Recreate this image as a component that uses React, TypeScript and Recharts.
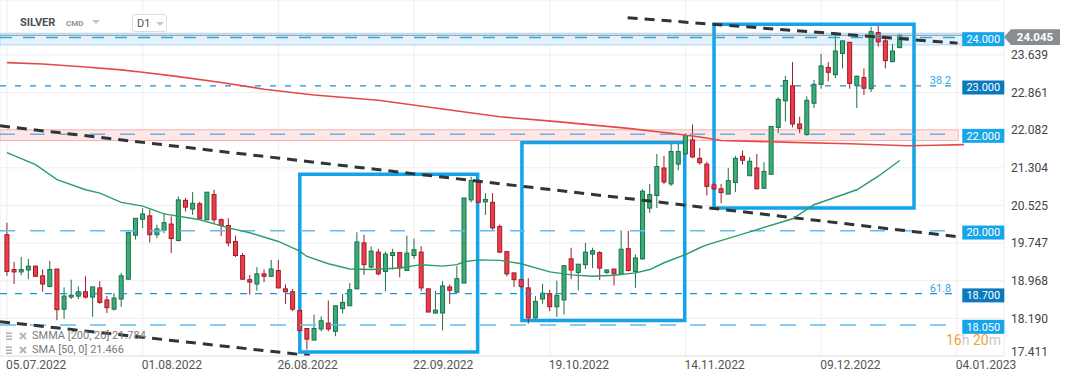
import React from 'react';
import {
  ComposedChart,
  Bar,
  Line,
  XAxis,
  YAxis,
  CartesianGrid,
  ReferenceLine,
  ReferenceArea,
} from 'recharts';

// daily candles, 05.07.2022 -> end of Dec 2022
const opens = [
  19.92, 19.2, 19.15, 19.19, 19.27, 19.07, 18.85, 19.21, 18.38, 18.63,
  18.65, 18.74, 18.63, 18.82, 18.57, 18.38, 18.59, 19.0, 19.91, 20.24,
  20.31, 19.92, 20.01, 20.14, 19.8, 20.63, 20.45, 20.56, 20.23, 20.75,
  20.23, 20.11, 19.78, 19.49, 18.99, 18.9, 19.11, 19.06, 19.18, 18.8,
  18.74, 18.35, 17.98, 17.74, 17.97, 18.09, 17.92, 18.39, 18.45, 18.8,
  19.75, 19.25, 19.56, 19.16, 19.49, 19.55, 19.18, 19.49, 19.56, 18.8,
  18.3, 18.3, 18.84, 18.73, 18.92, 20.64, 21.01, 20.6, 20.59, 20.09,
  19.57, 19.13, 18.99, 18.82, 18.2, 18.59, 18.7, 18.43, 18.57, 19.42,
  19.14, 19.3, 19.52, 19.55, 19.14, 19.21, 19.11, 19.63, 19.16, 19.42,
  20.47, 20.73, 21.3, 20.97, 21.38, 21.59, 21.88, 21.5, 21.38, 20.95,
  20.87, 20.76, 21.0, 21.54, 21.14, 21.3, 20.88, 21.17, 22.14, 22.69,
  23.0, 22.21, 21.99, 22.64, 23.03, 23.38, 23.23, 23.67, 23.9, 23.01,
  23.17, 22.94, 24.1, 23.93, 23.5, 23.79,
];
const highs = [
  20.17, 19.36, 19.46, 19.42, 19.28, 19.2, 19.38, 19.21, 18.83, 18.99,
  18.85, 19.06, 18.84, 18.96, 18.65, 18.71, 19.13, 19.97, 20.26, 20.47,
  20.44, 20.13, 20.37, 20.3, 20.71, 20.68, 20.8, 20.6, 20.8, 20.85,
  20.26, 20.26, 19.9, 19.54, 19.09, 19.25, 19.2, 19.4, 19.4, 18.89,
  18.8, 18.35, 17.98, 18.27, 18.23, 18.56, 18.45, 18.69, 18.92, 19.97,
  19.92, 19.68, 19.63, 19.57, 19.63, 19.55, 19.9, 19.84, 19.68, 18.8,
  18.76, 18.96, 18.89, 19.27, 20.68, 21.12, 21.02, 20.78, 20.78, 20.13,
  19.57, 19.13, 18.99, 19.02, 18.65, 18.9, 18.78, 18.97, 19.28, 19.65,
  19.31, 19.75, 19.65, 19.58, 19.21, 19.21, 20.01, 20.0, 19.51, 20.86,
  20.97, 21.59, 21.55, 21.8, 21.8, 22.02, 22.2, 21.71, 21.43, 20.99,
  20.97, 21.3, 21.55, 21.66, 21.52, 21.59, 21.42, 22.16, 22.76, 23.2,
  23.49, 22.36, 22.78, 23.12, 23.66, 23.49, 24.07, 23.93, 23.9, 23.2,
  23.36, 24.22, 24.24, 24.05, 23.86, 24.07,
];
const lows = [
  19.07, 18.9, 19.08, 19.0, 19.05, 18.74, 18.83, 18.15, 18.18, 18.59,
  18.59, 18.6, 18.22, 18.49, 18.3, 18.35, 18.43, 18.99, 19.82, 20.06,
  19.76, 19.85, 19.95, 19.54, 19.78, 20.4, 20.33, 20.25, 20.22, 20.16,
  19.89, 19.68, 19.46, 18.99, 18.68, 18.76, 18.94, 19.05, 18.81, 18.49,
  18.34, 17.92, 17.54, 17.74, 17.92, 17.92, 17.82, 18.29, 18.45, 18.8,
  19.09, 19.22, 19.08, 18.75, 19.2, 19.04, 19.18, 19.42, 18.75, 18.32,
  18.29, 17.94, 18.49, 18.73, 18.92, 20.59, 20.57, 20.33, 20.02, 19.54,
  19.06, 18.84, 18.82, 18.08, 18.18, 18.49, 18.34, 18.22, 18.27, 19.0,
  18.77, 19.21, 19.23, 18.98, 19.11, 18.87, 19.11, 19.16, 18.82, 19.4,
  20.37, 20.47, 20.97, 20.93, 21.25, 21.59, 21.5, 21.37, 20.73, 20.85,
  20.57, 20.76, 20.8, 21.37, 21.14, 20.86, 20.87, 21.17, 22.02, 22.26,
  22.14, 22.02, 21.97, 22.54, 22.94, 23.09, 23.16, 23.36, 22.94, 22.54,
  22.81, 22.87, 23.81, 23.36, 23.49, 23.78,
];
const closes = [
  19.16, 19.15, 19.2, 19.27, 19.06, 18.9, 19.2, 18.37, 18.65, 18.67,
  18.74, 18.63, 18.84, 18.52, 18.41, 18.61, 19.07, 19.97, 20.26, 20.35,
  19.92, 20.04, 20.17, 19.84, 20.64, 20.49, 20.57, 20.26, 20.8, 20.23,
  20.11, 19.75, 19.49, 19.0, 18.94, 19.11, 19.06, 19.21, 18.82, 18.74,
  18.38, 17.94, 17.76, 17.98, 18.14, 17.97, 18.45, 18.52, 18.78, 19.77,
  19.3, 19.58, 19.11, 19.52, 19.55, 19.23, 19.54, 19.61, 18.82, 18.32,
  18.36, 18.86, 18.77, 19.01, 20.68, 21.04, 20.59, 20.65, 20.06, 19.56,
  19.11, 18.99, 18.85, 18.2, 18.54, 18.71, 18.43, 18.66, 19.28, 19.19,
  19.31, 19.56, 19.59, 19.23, 19.19, 19.11, 19.62, 19.18, 19.44, 20.82,
  20.75, 21.33, 21.01, 21.64, 21.64, 21.97, 21.53, 21.41, 20.92, 20.87,
  20.79, 21.04, 21.5, 21.46, 21.44, 20.87, 21.23, 22.16, 22.72, 23.11,
  22.21, 22.12, 22.7, 23.03, 23.41, 23.28, 23.72, 23.93, 23.05, 23.2,
  22.95, 24.12, 23.91, 23.52, 23.72, 24.045,
];

// indicator readings [bar index, value]
const smmaPoints: [number, number][] = [
  [0, 23.48], [5, 23.45], [11, 23.39], [16, 23.33], [19, 23.28], [24, 23.19],
  [30, 23.07], [36, 22.93], [43, 22.81], [52, 22.7], [61, 22.52], [69, 22.36],
  [77, 22.26], [87, 22.12], [93, 22.02], [97, 21.94], [100, 21.87], [110, 21.83],
  [118, 21.8], [126, 21.76], [130, 21.77], [134, 21.784],
];
const smaPoints: [number, number][] = [
  [0, 21.62], [4, 21.37], [7, 21.06], [11, 20.85], [13, 20.78], [16, 20.59],
  [19, 20.51], [22, 20.35], [27, 20.23], [31, 20.06], [34, 19.96], [38, 19.78],
  [41, 19.58], [42, 19.47], [45, 19.32], [48, 19.21], [51, 19.2], [55, 19.23],
  [58, 19.3], [61, 19.27], [63, 19.3], [64, 19.36], [66, 19.4], [69, 19.39],
  [72, 19.32], [76, 19.15], [79, 19.09], [82, 19.06], [85, 19.08], [88, 19.13],
  [90, 19.2], [92, 19.34], [95, 19.51], [97, 19.65], [98, 19.71], [104, 19.98],
  [110, 20.25], [113, 20.54], [119, 20.85], [122, 21.13], [125, 21.455],
];
const smmaLast = '21.784';
const smaLast = '21.466';

const dateTicks = [0, 19, 38, 57, 76, 95, 114, 133];
const dateLabels = ['05.07.2022', '01.08.2022', '26.08.2022', '22.09.2022', '19.10.2022', '14.11.2022', '09.12.2022', '04.01.2023'];
const priceTicks = [17.411, 18.19, 18.968, 19.747, 20.525, 21.304, 22.082, 22.861, 23.639];

const levels = [24, 23, 22, 20, 18.7, 18.05];
const fibLevels = [23, 18.7];
const fibNames = ['38.2', '61.8'];
const lastPrice = 24.045;
const upperZone = [23.846, 24.087];
const lowerZone = [21.868, 22.09];

// trend lines: [[i1, v1], [i2, v2]]
const trendLines: [number, number][][] = [
  [[86.9, 24.409], [133.1, 23.883]],
  [[-0.98, 22.172], [133.1, 19.879]],
  [[-0.98, 18.122], [42.4, 17.42]],
];
// highlight boxes: [i1, i2, vLow, vHigh]
const boxes = [
  [41.0, 65.9, 17.496, 21.17],
  [72.1, 94.9, 18.143, 21.827],
  [99.0, 127.0, 20.472, 24.273],
];

const X_MIN = -0.98;
const X_MAX = 139.6;

const candles = opens.map((o, i) => ({ i, o, h: highs[i], l: lows[i], c: closes[i] }));
const smmaData = smmaPoints.map(([i, v]) => ({ i, smma: v }));
const smaData = smaPoints.map(([i, v]) => ({ i, sma: v }));

const levelStyle: Record<number, { stroke: string; dash: string; width: number; box: string }> = {
  24: { stroke: '#2aa8ea', dash: '12 11', width: 1.5, box: '#17a5ea' },
  23: { stroke: '#1a8fd8', dash: '6 9', width: 1.2, box: '#0a79be' },
  22: { stroke: '#6cafe0', dash: '15 15', width: 1.5, box: '#17a6ea' },
  20: { stroke: '#62bdf0', dash: '15 15', width: 1.5, box: '#16a5ea' },
  18.7: { stroke: '#1a95dc', dash: '7 8', width: 1.2, box: '#0a79be' },
  18.05: { stroke: '#5fbcf0', dash: '16 14', width: 1.5, box: '#16a5ea' },
};

const Candle = (props: any) => {
  const { x, y, width, height, payload } = props;
  if (!payload || payload.o == null) return null;
  const { o, h, l, c } = payload;
  const top = Math.min(y, y + height);
  const full = Math.abs(height);
  const k = full / Math.max(h - l, 1e-6);
  const yAt = (v: number) => top + (h - v) * k;
  const up = c >= o;
  const cx = x + width / 2;
  const bTop = yAt(Math.max(o, c));
  const bH = Math.max(yAt(Math.min(o, c)) - bTop, 1);
  const fill = up ? '#3aae78' : '#f03c4a';
  const edge = up ? '#1d7048' : '#9c1c28';
  return (
    <g>
      <line x1={cx} x2={cx} y1={top} y2={top + full} stroke={edge} strokeWidth={1} />
      <rect x={x + 0.5} y={bTop} width={width - 1} height={bH} fill={fill} stroke={edge} strokeWidth={1} />
    </g>
  );
};

const PriceTick = (props: any) => {
  const { x, y, payload } = props;
  const dy = payload.value === priceTicks[0] ? -4.5 : 0;
  return (
    <text x={x + 7} y={y + dy + 4.3} fill="#444" fontSize={12} fontFamily="Roboto" textAnchor="start">
      {payload.value.toFixed(3)}
    </text>
  );
};

const DateTick = (props: any) => {
  const { x, y, payload } = props;
  const idx = dateTicks.indexOf(payload.value);
  return (
    <text x={x - 1} y={y + 12.6} fill="#555" fontSize={12} fontFamily="Roboto" textAnchor="start">
      {dateLabels[idx]}
    </text>
  );
};

const levelLabel = (level: number) => (props: any) => {
  const vb = props.viewBox || {};
  const endX = vb.x + vb.width;
  const ly = vb.y;
  const st = levelStyle[level];
  const fi = fibLevels.indexOf(level);
  return (
    <g>
      {fi >= 0 && (
        <text x={endX - 7} y={ly - 1.5} fill="#37a7e6" fontSize={11} fontFamily="Roboto" textAnchor="end">
          {fibNames[fi]}
        </text>
      )}
      <rect x={endX + 4} y={ly - 5.3} width={42} height={14} fill={st.box} />
      <text x={endX + 25} y={ly + 5.6} fill="#fff" fontSize={11} fontFamily="Roboto" textAnchor="middle">
        {level.toFixed(3)}
      </text>
    </g>
  );
};

const priceTag = (props: any) => {
  const vb = props.viewBox || {};
  const sx = vb.x + vb.width;
  const ly = vb.y;
  return (
    <g>
      <polygon
        points={`${sx},${ly + 1.8} ${sx + 7},${ly - 6} ${sx + 56},${ly - 6} ${sx + 56},${ly + 9.6} ${sx + 7},${ly + 9.6}`}
        fill="#878d92"
      />
      <text x={sx + 31} y={ly + 6} fill="#fff" fontSize={11.5} fontWeight={700} fontFamily="Roboto" textAnchor="middle">
        {lastPrice.toFixed(3)}
      </text>
    </g>
  );
};

const LegendIcon = () => (
  <svg width={22} height={9} style={{ marginRight: 4 }}>
    <rect x={0} y={0.5} width={6} height={1.5} fill="#b0b0b0" />
    <rect x={0} y={3.5} width={6} height={1.5} fill="#b0b0b0" />
    <rect x={0} y={6.5} width={6} height={1.5} fill="#b0b0b0" />
    <path d="M14 1 L20 7 M20 1 L14 7" stroke="#b5b5b5" strokeWidth={2} />
  </svg>
);

const SilverChart: React.FC = () => {
  return (
    <div style={{ position: 'absolute', left: 0, top: 0, width: 1072, height: 382, background: '#fff', fontFamily: 'Roboto' }}>
      <ComposedChart width={1072} height={382} data={candles} margin={{ top: 0, right: 0, bottom: 0, left: 0 }}>
        <ReferenceArea x1={X_MIN} x2={133.8} y1={upperZone[0]} y2={upperZone[1]} fill="#e3f2fb" fillOpacity={1} stroke="#a8d6f0" strokeWidth={1} ifOverflow="hidden" />
        <ReferenceArea x1={X_MIN} x2={133.2} y1={lowerZone[0]} y2={lowerZone[1]} fill="#fde7e7" fillOpacity={1} stroke="#f6b2b2" strokeWidth={1} ifOverflow="hidden" />
        <CartesianGrid stroke="#eeeeee" />
        <XAxis
          dataKey="i"
          type="number"
          domain={[X_MIN, X_MAX]}
          allowDataOverflow
          ticks={dateTicks}
          height={26}
          tickSize={0}
          tickMargin={0}
          axisLine={{ stroke: '#e6e6e6' }}
          tickLine={false}
          tick={<DateTick />}
        />
        <YAxis
          orientation="right"
          type="number"
          domain={[17.411, 24.775]}
          allowDataOverflow
          ticks={priceTicks}
          width={68}
          tickSize={0}
          tickMargin={0}
          axisLine={false}
          tickLine={false}
          tick={<PriceTick />}
        />
        <ReferenceLine y={lastPrice} stroke="#8a9095" strokeWidth={1} ifOverflow="hidden" label={priceTag} />
        {levels.map((lv) => (
          <ReferenceLine
            key={lv}
            segment={[{ x: X_MIN, y: lv }, { x: 133.2, y: lv }]}
            stroke={levelStyle[lv].stroke}
            strokeWidth={levelStyle[lv].width}
            strokeDasharray={levelStyle[lv].dash}
            ifOverflow="hidden"
            label={levelLabel(lv)}
          />
        ))}
        {trendLines.map((seg, k) => (
          <ReferenceLine
            key={'t' + k}
            segment={[{ x: seg[0][0], y: seg[0][1] }, { x: seg[1][0], y: seg[1][1] }]}
            stroke="#2f3438"
            strokeWidth={3}
            strokeDasharray="10 7"
            ifOverflow="hidden"
          />
        ))}
        <Line data={smmaData} dataKey="smma" stroke="#e64848" strokeWidth={1.6} dot={false} activeDot={false} isAnimationActive={false} />
        <Line data={smaData} dataKey="sma" stroke="#2a9d6a" strokeWidth={1.4} dot={false} activeDot={false} isAnimationActive={false} />
        <Bar
          dataKey={(d: any) => [d.l, d.h]}
          barSize={5}
          shape={<Candle />}
          isAnimationActive={false}
        />
        {boxes.map((b, k) => (
          <ReferenceArea
            key={'b' + k}
            x1={b[0]}
            x2={b[1]}
            y1={b[2]}
            y2={b[3]}
            fill="none"
            stroke="#13a3ea"
            strokeWidth={3.5}
            ifOverflow="visible"
          />
        ))}
      </ComposedChart>

      {/* header */}
      <div style={{ position: 'absolute', left: 20, top: 16, fontSize: 11, fontWeight: 700, color: '#4b5056', lineHeight: '13px' }}>SILVER</div>
      <div style={{ position: 'absolute', left: 66, top: 19, fontSize: 8, fontWeight: 700, color: '#8e949a', lineHeight: '10px' }}>CMD</div>
      <div style={{ position: 'absolute', left: 92, top: 20, width: 0, height: 0, borderLeft: '4px solid transparent', borderRight: '4px solid transparent', borderTop: '4px solid #c4c7ca' }} />
      <div style={{ position: 'absolute', left: 132, top: 14, width: 35, height: 18, border: '1px solid #dcdfe2', borderRadius: 3, background: '#fff', boxSizing: 'border-box' }}>
        <span style={{ position: 'absolute', left: 4, top: 2, fontSize: 11, color: '#555', lineHeight: '13px' }}>D1</span>
        <div style={{ position: 'absolute', left: 23, top: 7, width: 0, height: 0, borderLeft: '4px solid transparent', borderRight: '4px solid transparent', borderTop: '4px solid #c4c7ca' }} />
      </div>

      {/* indicator legend */}
      <div style={{ position: 'absolute', left: 6, top: 329, fontSize: 11, color: '#7a7a7a', lineHeight: '14px' }}>
        <div style={{ display: 'flex', alignItems: 'center' }}>
          <LegendIcon />
          <span>SMMA [200, 20] {smmaLast}</span>
        </div>
        <div style={{ display: 'flex', alignItems: 'center' }}>
          <LegendIcon />
          <span>SMA [50, 0] {smaLast}</span>
        </div>
      </div>

      {/* candle timer */}
      <div style={{ position: 'absolute', left: 946, top: 333, fontSize: 14, lineHeight: '14px', whiteSpace: 'nowrap' }}>
        <span style={{ color: '#f5a23a' }}>16</span>
        <span style={{ color: '#c9c9c9' }}>h </span>
        <span style={{ color: '#f5a23a' }}>20</span>
        <span style={{ color: '#c9c9c9' }}>m</span>
      </div>
    </div>
  );
};

export default function App() {
  return <SilverChart />;
}
